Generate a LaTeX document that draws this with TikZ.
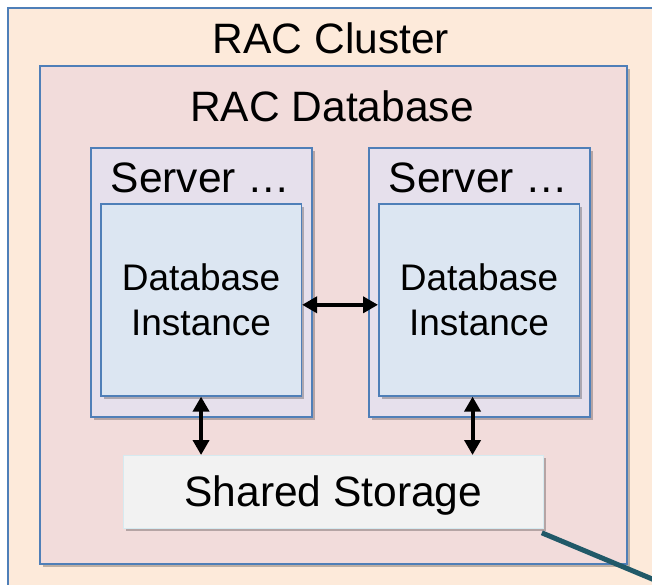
\documentclass[tikz,border=0pt]{standalone}
\usepackage{fontspec}
\setmainfont{Liberation Sans}
\usetikzlibrary{arrows.meta, shadows}
\usepackage{xcolor}

\definecolor{clusterbg}{HTML}{FDEADA}
\definecolor{dbbg}{HTML}{F2DCDB}
\definecolor{serverbg}{HTML}{E6E0EC}
\definecolor{instbg}{HTML}{DCE6F2}
\definecolor{storebg}{HTML}{F2F2F2}
\definecolor{storeedge}{HTML}{D6EAF0}
\definecolor{boxedge}{HTML}{4F7FB8}
\definecolor{linkteal}{HTML}{215968}

\begin{document}
\begin{tikzpicture}[x=1pt, y=-1pt,
        box/.style={draw=boxedge, line width=1.6pt, rectangle, inner sep=0pt, anchor=north west},
        boxshade/.style={drop shadow={shadow xshift=3pt, shadow yshift=-3pt, opacity=0.25, fill=black}},
        biarrow/.style={{Triangle[length=15pt,width=16pt]}-{Triangle[length=15pt,width=16pt]}, line width=4pt},
        bigtext/.style={font=\fontsize{42.5}{50}\selectfont},
        insttext/.style={font=\fontsize{37}{45}\selectfont, align=center}]
        \useasboundingbox (0,0) rectangle (652,584);
        \begin{scope}
            \clip (0,0) rectangle (652,584);
            \node[box, fill=clusterbg, minimum width=720pt, minimum height=720pt] (cluster) at (7,7) {};
            \node[bigtext, anchor=base] (clusterlabel) at (331,53) {RAC Cluster};
            \node[box, boxshade, fill=dbbg, minimum width=587pt, minimum height=498pt] (racdb) at (39,65) {};
            \node[bigtext, anchor=base] (dblabel) at (332,121) {RAC Database};
            \foreach \x/\i in {90/1, 368/2} {
                \node[box, boxshade, fill=serverbg, minimum width=221pt, minimum height=269pt] (srv\i) at (\x,147) {};
                \node[bigtext, anchor=base] (srv\i label) at (\x+110.5,192) {Server …};
                \node[box, boxshade, fill=instbg, insttext, minimum width=200.5pt, minimum height=192pt] (inst\i) at (\x+10,203) {Database\\Instance};
            }
            \node[box, boxshade, draw=storeedge, line width=0.8pt, fill=storebg, bigtext, text height=30pt, text depth=0pt, minimum width=420pt, minimum height=73pt] (store) at (123,455) {Shared Storage};
            \draw[biarrow] ([yshift=-5pt]inst1.east) -- ([yshift=-5pt]inst2.west);
            \draw[biarrow] (inst1.south) -- (inst1.south |- store.north);
            \draw[biarrow] ([xshift=-6.5pt]inst2.south) -- ([xshift=-6.5pt]inst2.south |- store.north);
            \coordinate (offpage) at (700,599);
            \draw[linkteal, line width=5pt] ([shift={(-2pt,-4pt)}]store.south east) -- (offpage);
        \end{scope}
    \end{tikzpicture}
\end{document}
